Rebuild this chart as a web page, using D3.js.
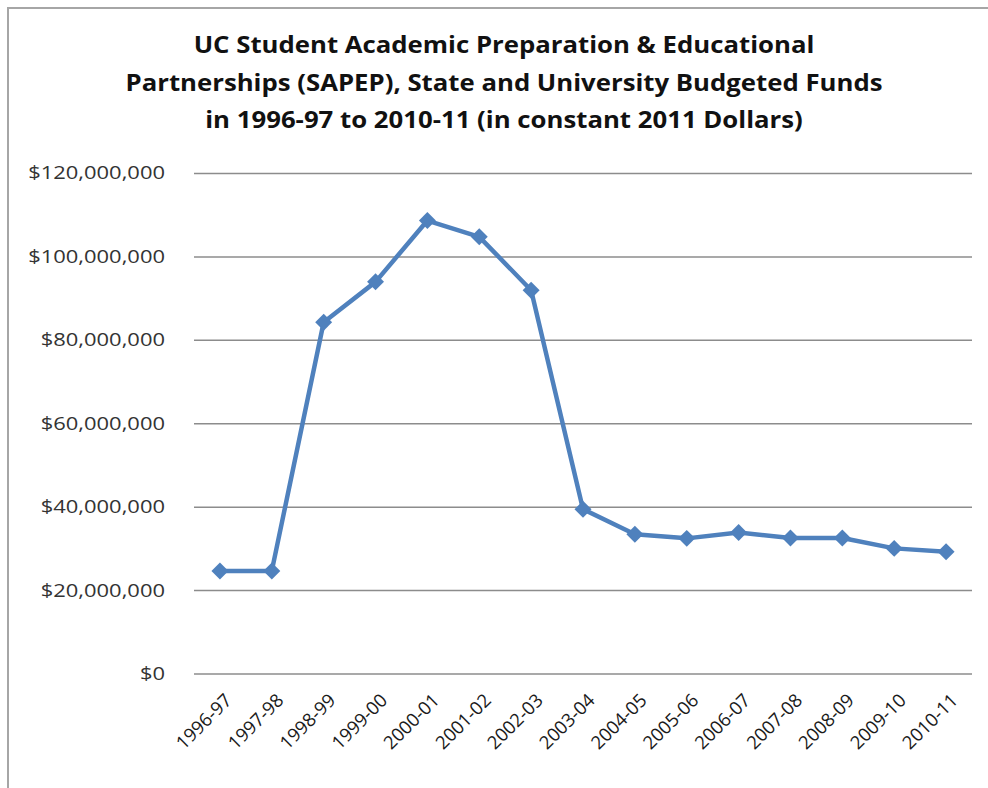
<!DOCTYPE html>
<html>
<head>
<meta charset="utf-8">
<script src="https://cdn.jsdelivr.net/npm/d3@7"></script>
<style>
  body { margin: 0; background: #fff; }
  text { font-family: "Open Sans", sans-serif; }
</style>
</head>
<body>
<div id="chart"></div>
<script>
// SAPEP budgeted funds, constant 2011 dollars
var years = ["1996-97", "1997-98", "1998-99", "1999-00", "2000-01", "2001-02", "2002-03",
  "2003-04", "2004-05", "2005-06", "2006-07", "2007-08", "2008-09", "2009-10", "2010-11"];
var funds = [24600000, 24600000, 84200000, 93900000, 108600000, 104700000, 91900000,
  39400000, 33400000, 32400000, 33800000, 32500000, 32500000, 30000000, 29200000];
var yTicks = [0, 20000000, 40000000, 60000000, 80000000, 100000000, 120000000];
var titleLines = ["UC Student Academic Preparation & Educational",
  "Partnerships (SAPEP), State and University Budgeted Funds",
  "in 1996-97 to 2010-11 (in constant 2011 Dollars)"];

var W = 988, H = 788;
var margin = {top: 173, right: 16, bottom: 114.5, left: 194},
  width = W - margin.left - margin.right,
  height = H - margin.top - margin.bottom;

var svg = d3.select("#chart").append("svg")
  .attr("width", W)
  .attr("height", H);

// chart area border (only top/left visible in the crop)
svg.append("path")
  .attr("d", "M8,788 L8,8 L988,8")
  .attr("fill", "none")
  .attr("stroke", "#a6a6a6")
  .attr("stroke-width", 2);

// title - the source font is wider, so stretch a bit
svg.append("g")
  .selectAll("text")
  .data(titleLines)
  .enter().append("text")
    .attr("transform", (d, i) => "translate(504," + (53 + i * 37.5) + ") scale(1.12,1)")
    .attr("text-anchor", "middle")
    .attr("font-size", 23)
    .attr("font-weight", 700)
    .attr("fill", "#111")
    .text(d => d);

var g = svg.append("g")
  .attr("transform", "translate(" + margin.left + "," + margin.top + ")");

var x = d3.scaleBand()
  .domain(years)
  .range([0, width]);

var y = d3.scaleLinear()
  .domain([0, 120000000])
  .range([height, 0]);

// gridlines
g.append("g")
  .call(d3.axisLeft(y)
    .tickValues(yTicks)
    .tickSize(-width)
    .tickFormat(""))
  .call(a => a.select(".domain").remove())
  .call(a => a.selectAll("line").attr("stroke", "#8c8c8c").attr("stroke-width", 1.5));

// y labels
g.append("g")
  .selectAll("text")
  .data(yTicks)
  .enter().append("text")
    .attr("transform", d => "translate(-29," + y(d) + ") scale(1.22,1)")
    .attr("text-anchor", "end")
    .attr("dy", "0.36em")
    .attr("font-size", 18)
    .attr("fill", "#333")
    .text(d => "$" + d3.format(",")(d));

// x labels, rotated
g.append("g")
  .selectAll("text")
  .data(years)
  .enter().append("text")
    .attr("transform", d => "translate(" + (x(d) + x.bandwidth() / 2 + 13) + "," + (height + 28) + ") rotate(-45)")
    .attr("text-anchor", "end")
    .attr("font-size", 18.5)
    .attr("fill", "#1a1a1a")
    .text(d => d);

var line = d3.line()
  .x((d, i) => x(years[i]) + x.bandwidth() / 2)
  .y(d => y(d));

g.append("path")
  .datum(funds)
  .attr("fill", "none")
  .attr("stroke", "#4f81bd")
  .attr("stroke-width", 4.5)
  .attr("stroke-linejoin", "round")
  .attr("d", line);

g.selectAll(".pt")
  .data(funds)
  .enter().append("path")
    .attr("class", "pt")
    .attr("d", d3.symbol(d3.symbolSquare, 144))
    .attr("fill", "#4f81bd")
    .attr("transform", (d, i) => "translate(" + (x(years[i]) + x.bandwidth() / 2) + "," + y(d) + ") rotate(45)");
</script>
</body>
</html>
